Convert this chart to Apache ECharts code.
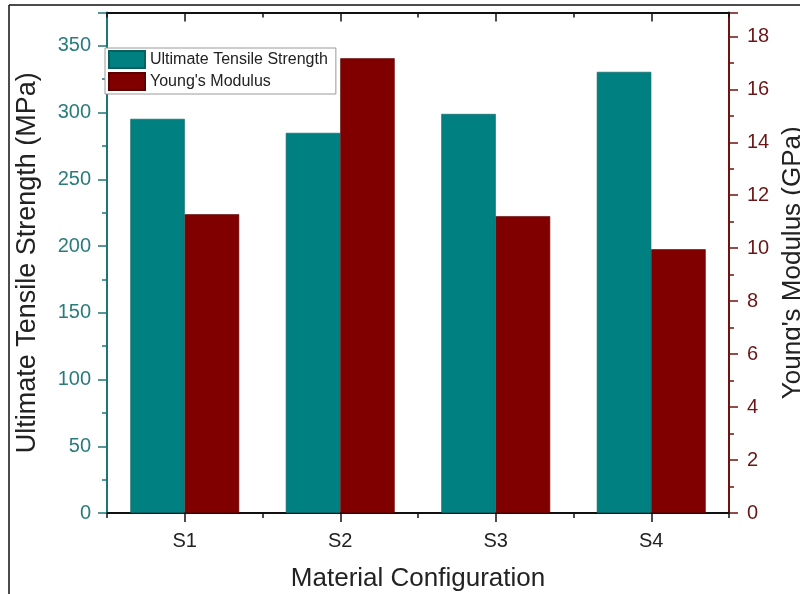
<!DOCTYPE html>
<html>
<head>
<meta charset="utf-8">
<script src="https://cdn.jsdelivr.net/npm/echarts@6/dist/echarts.min.js"></script>
<style>html,body{margin:0;padding:0;background:#fff;}#chart{width:800px;height:594px;}</style>
</head>
<body>
<div id="chart"></div>
<script>
const categories = ['S1', 'S2', 'S3', 'S4'];
const utsValues = [295.3, 284.8, 299.0, 330.5];
const ymValues = [11.28, 17.17, 11.21, 9.96];
const utsTicks = { min: 0, max: 375, interval: 50 };
const ymTicks = { min: 0, max: 18.9, interval: 2 };

const teal = '#008080', maroon = '#800000';
const tealAxis = '#1f7575', tealText = '#2a7c7c';
const redAxis = '#6e1212', redText = '#6b1616';
const font = 'Arial, "Liberation Sans", sans-serif';

const chart = echarts.init(document.getElementById('chart'));
const catBase = { type: 'category', data: categories, boundaryGap: true };
chart.setOption({
  animation: false,
  backgroundColor: '#fff',
  textStyle: { fontFamily: font },
  grid: { left: 107, right: 71, top: 12.5, bottom: 81, containLabel: false, outerBoundsMode: 'none' },
  legend: {
    orient: 'vertical', left: 105, top: 48,
    itemWidth: 36, itemHeight: 17, itemGap: 3,
    padding: [2, 8, 3, 3],
    backgroundColor: '#fff', borderColor: '#9a9a9a', borderWidth: 1, borderRadius: 0,
    textStyle: { fontSize: 16, color: '#222', fontFamily: font },
    data: [
      { name: 'Ultimate Tensile Strength', icon: 'rect' },
      { name: "Young's Modulus", icon: 'rect' }
    ]
  },
  xAxis: [
    Object.assign({}, catBase, {
      position: 'bottom',
      name: 'Material Configuration', nameLocation: 'middle', nameGap: 53,
      nameTextStyle: { fontSize: 26, color: '#222', fontFamily: font },
      axisLine: { show: true, lineStyle: { color: '#111', width: 2 } },
      axisTick: { show: true, alignWithLabel: true, length: 9, lineStyle: { color: '#111', width: 1.5 } },
      axisLabel: { fontSize: 20, color: '#222', margin: 18, fontFamily: font },
      splitLine: { show: false }
    }),
    Object.assign({}, catBase, {
      position: 'bottom',
      axisLine: { show: false },
      axisTick: { show: true, alignWithLabel: false, length: 5, lineStyle: { color: '#111', width: 1.5 } },
      axisLabel: { show: false }, splitLine: { show: false }
    }),
    Object.assign({}, catBase, {
      position: 'top',
      axisLine: { show: true, lineStyle: { color: '#111', width: 2 } },
      axisTick: { show: true, inside: true, alignWithLabel: true, length: 9, lineStyle: { color: '#111', width: 1.5 } },
      axisLabel: { show: false }, splitLine: { show: false }
    }),
    Object.assign({}, catBase, {
      position: 'top',
      axisLine: { show: false },
      axisTick: { show: true, inside: true, alignWithLabel: false, length: 5, lineStyle: { color: '#111', width: 1.5 } },
      axisLabel: { show: false }, splitLine: { show: false }
    })
  ],
  yAxis: [
    {
      type: 'value', position: 'left',
      min: utsTicks.min, max: utsTicks.max, interval: utsTicks.interval,
      name: 'Ultimate Tensile Strength (MPa)', nameLocation: 'middle', nameGap: 66,
      nameTextStyle: { fontSize: 27, color: '#222', fontFamily: font },
      axisLine: { show: true, lineStyle: { color: tealAxis, width: 2 } },
      axisTick: { show: true, length: 9, lineStyle: { color: tealAxis, width: 1.5 } },
      minorTick: { show: true, splitNumber: 2, length: 5, lineStyle: { color: tealAxis, width: 1.5 } },
      axisLabel: { fontSize: 20, color: tealText, margin: 16, fontFamily: font,
        formatter: v => (v % 50 === 0 ? String(v) : '') },
      splitLine: { show: false }, minorSplitLine: { show: false }
    },
    {
      type: 'value', position: 'right',
      min: ymTicks.min, max: ymTicks.max, interval: ymTicks.interval,
      name: "Young's Modulus (GPa)", nameLocation: 'middle', nameGap: 50,
      nameTextStyle: { fontSize: 26, color: '#222', fontFamily: font },
      axisLine: { show: true, lineStyle: { color: redAxis, width: 2 } },
      axisTick: { show: true, length: 9, lineStyle: { color: redAxis, width: 1.5 } },
      minorTick: { show: true, splitNumber: 2, length: 5, lineStyle: { color: redAxis, width: 1.5 } },
      axisLabel: { fontSize: 20, color: redText, margin: 18, fontFamily: font,
        formatter: v => (v % 2 === 0 ? String(v) : '') },
      splitLine: { show: false }, minorSplitLine: { show: false }
    }
  ],
  series: [
    {
      name: 'Ultimate Tensile Strength', type: 'bar', xAxisIndex: 0, yAxisIndex: 0,
      data: utsValues, barGap: '0%', barCategoryGap: '30%',
      itemStyle: { color: teal, borderColor: '#0a5f5f', borderWidth: 0.6 }
    },
    {
      name: "Young's Modulus", type: 'bar', xAxisIndex: 0, yAxisIndex: 1,
      data: ymValues, barGap: '0%', barCategoryGap: '30%',
      itemStyle: { color: maroon, borderColor: '#5a0000', borderWidth: 0.6 }
    }
  ],
  graphic: [
    { type: 'line', silent: true, shape: { x1: 9, y1: 5, x2: 800, y2: 5 }, style: { stroke: '#111', lineWidth: 1.5 } },
    { type: 'line', silent: true, shape: { x1: 9, y1: 5, x2: 9, y2: 594 }, style: { stroke: '#111', lineWidth: 1.5 } }
  ]
});
</script>
</body>
</html>
